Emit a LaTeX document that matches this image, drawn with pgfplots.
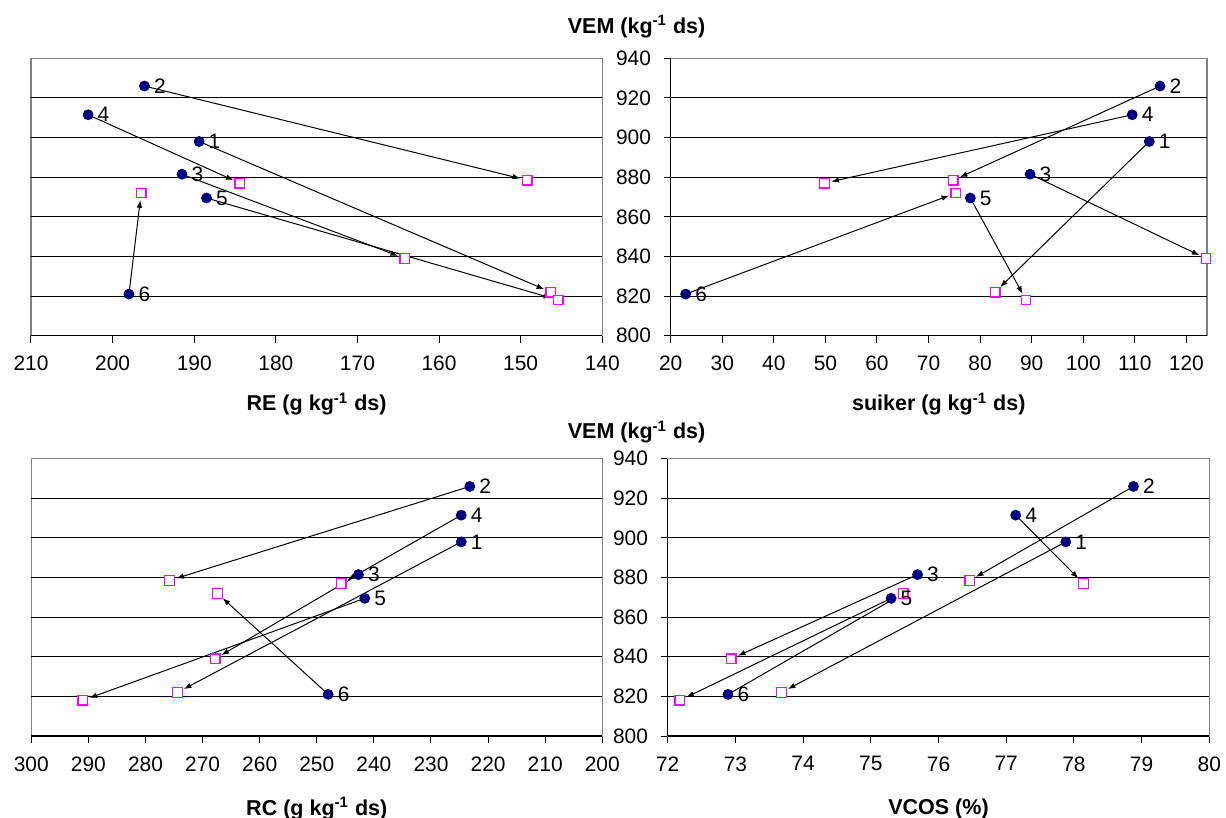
\documentclass[border=0pt]{standalone}
\usepackage{fontspec}
\setmainfont{Liberation Sans}
\usepackage{pgfplots}
\pgfplotsset{compat=1.18}
\usepackage{pgfplotstable}
\usetikzlibrary{arrows.meta}
\definecolor{navy}{HTML}{000080}
\definecolor{mag}{HTML}{FF00FF}
\definecolor{bordergray}{HTML}{808080}

% A = start (circle), B = end (open square)
\pgfplotstableread{
id vemA reA suA rcA vcA vemB reB suB rcB vcB
1 898.0 189.4 112.8 224.7 77.88 822.0 146.3 82.9 274.4 73.68
2 926.0 196.1 114.9 223.2 78.88 878.5 149.2 74.8 275.8 76.46
3 881.5 191.5 89.7 242.7 75.69 839.0 164.2 123.8 267.8 72.94
4 911.5 203.0 109.5 224.7 77.14 877.0 184.4 49.8 245.7 78.14
5 869.5 188.5 78.1 241.6 75.30 818.0 145.4 88.9 291.0 72.18
6 821.0 198.0 22.9 248.0 72.89 872.0 196.5 75.3 267.4 75.48
}\data

\pgfplotsset{
  panel/.style={
    scale only axis, clip=false,
    ymin=800, ymax=940,
    axis line style={draw=bordergray, line width=0.6bp},
    tick style={black, line width=0.5bp},
    tick align=outside,
    major tick length=3.5bp,
    xtick pos=bottom,
    ticklabel style={font=\fontsize{10.5}{12}\selectfont, /pgf/number format/assume math mode=true},
    xticklabel style={anchor=north, inner sep=0pt},
    yticklabel style={anchor=east, inner sep=0pt},
    xticklabel shift=6.6bp,
    yticklabel shift=6.2bp,
    extra y ticks={820,840,860,880,900,920},
    extra y tick labels={},
    extra y tick style={grid=major, major tick length=0pt},
    grid style={black, line width=0.5bp},
  },
  leftpanel/.style={panel, x dir=reverse, ytick=\empty},
  rightpanel/.style={panel, ytick={800,820,...,940}, ytick pos=left},
  arr/.style={black, line width=0.5bp, -{Latex[length=3.8bp,width=2.8bp]}, shorten >=3.6bp},
  circ/.style={only marks, mark=*, mark size=2.5bp, mark options={fill=navy, draw=navy},
    nodes near coords, point meta=explicit symbolic,
    nodes near coords style={anchor=west, inner sep=0pt, xshift=4.6bp, black, font=\fontsize{10.5}{12}\selectfont}},
  sq/.style={only marks, mark=square*, mark size=2.4bp, mark options={fill=white, draw=mag, line width=0.65bp}},
}

\newcommand{\arrows}[2]{%
  \addplot[arr, quiver={u=\thisrow{#1B}-\thisrow{#1A}, v=\thisrow{vemB}-\thisrow{vemA}}] table[x=#1A, y=vemA]{\data};
  \addplot[sq] table[x=#1B, y=vemB]{\data};
  \addplot[circ] table[x=#1A, y=vemA, meta=id]{\data};
}

\begin{document}
\begin{tikzpicture}
\useasboundingbox (0,0) rectangle (613bp,409bp);

% top left: RE
\begin{axis}[leftpanel, at={(15.5bp,241.15bp)}, anchor=south west,
  width=285.65bp, height=138.7bp, xmin=140, xmax=210, xtick={140,150,...,210}]
  \arrows{re}{}
  \draw[black, line width=0.6bp] (rel axis cs:0,0) -- (rel axis cs:1,0);
\end{axis}

% top right: suiker
\begin{axis}[rightpanel, at={(335.35bp,241.15bp)}, anchor=south west,
  width=268.15bp, height=138.7bp, xmin=20, xmax=124, xtick={20,30,...,120}]
  \arrows{su}{}
  \draw[black, line width=0.6bp] (rel axis cs:0,0) -- (rel axis cs:1,0);
  \draw[black, line width=0.6bp] (rel axis cs:0,0) -- (rel axis cs:0,1);
\end{axis}

% bottom left: RC
\begin{axis}[leftpanel, at={(15.65bp,41bp)}, anchor=south west,
  width=285.5bp, height=138.65bp, xmin=200, xmax=300, xtick={200,210,...,300}]
  \arrows{rc}{}
  \draw[black, line width=0.6bp] (rel axis cs:0,0) -- (rel axis cs:1,0);
\end{axis}

% bottom right: VCOS
\begin{axis}[rightpanel, at={(333.85bp,41bp)}, anchor=south west,
  width=270.8bp, height=138.65bp, xmin=72, xmax=80, xtick={72,73,...,80}]
  \arrows{vc}{}
  \draw[black, line width=0.6bp] (rel axis cs:0,0) -- (rel axis cs:1,0);
  \draw[black, line width=0.6bp] (rel axis cs:0,0) -- (rel axis cs:0,1);
\end{axis}

\tikzset{ttl/.style={anchor=base, font=\fontsize{10.8}{12}\selectfont\bfseries}}
\node[ttl] at (318.3bp,392.35bp) {VEM (kg\textsuperscript{-1} ds)};
\node[ttl] at (318.3bp,189.5bp) {VEM (kg\textsuperscript{-1} ds)};
\node[ttl] at (158.3bp,203.5bp) {RE (g kg\textsuperscript{-1} ds)};
\node[ttl] at (469.4bp,203.5bp) {suiker (g kg\textsuperscript{-1} ds)};
\node[ttl] at (158.4bp,1.4bp) {RC (g kg\textsuperscript{-1} ds)};
\node[ttl] at (469.25bp,1.6bp) {VCOS (\%)};
\end{tikzpicture}
\end{document}
